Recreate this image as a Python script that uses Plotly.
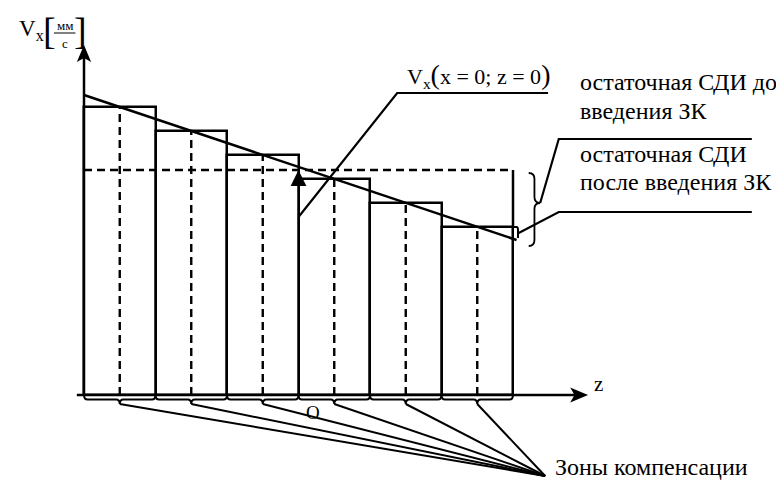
import plotly.graph_objects as go

# --- data -----------------------------------------------------------------
zone_edges = [0, 1, 2, 3, 4, 5, 6]                 # z boundaries of the compensation zones
zone_centers = [0.5, 1.5, 2.5, 3.5, 4.5, 5.5]
vx_steps = [28.8, 26.4, 24.0, 21.6, 19.2, 16.8]    # step profile of V_x per zone
trend_z = [0.0, 6.05]                              # residual velocity before compensation
trend_v = [30.0, 15.5]
comp_level = 22.5                                  # level after compensation
z_axis_end = 7.05
v_axis_end = 35.0

SERIF = "Liberation Serif"
INK = "black"
LW = 2.5

fig = go.Figure()

# zone bars (outline only)
fig.add_trace(go.Bar(
    x=zone_centers, y=vx_steps, width=1.0,
    marker=dict(color="rgba(0,0,0,0)", line=dict(color=INK, width=LW)),
    hoverinfo="skip", showlegend=False,
))

# dashed centre lines of every zone
for zc, v in zip(zone_centers, vx_steps):
    fig.add_trace(go.Scatter(x=[zc, zc], y=[0, v], mode="lines",
                             line=dict(color=INK, width=2.4, dash="8px,5px"),
                             hoverinfo="skip", showlegend=False))

# compensated level (dashed) and the closing edge of the last zone
fig.add_trace(go.Scatter(x=[zone_edges[0], zone_edges[-1]], y=[comp_level, comp_level],
                         mode="lines", line=dict(color=INK, width=2.4, dash="8px,5px"),
                         hoverinfo="skip", showlegend=False))
fig.add_trace(go.Scatter(x=[zone_edges[-1], zone_edges[-1]], y=[vx_steps[-1], comp_level],
                         mode="lines", line=dict(color=INK, width=LW),
                         hoverinfo="skip", showlegend=False))

# residual velocity trend
fig.add_trace(go.Scatter(x=trend_z, y=trend_v, mode="lines",
                         line=dict(color=INK, width=LW),
                         hoverinfo="skip", showlegend=False))

# z axis and V axis
fig.add_trace(go.Scatter(x=[-0.1, z_axis_end - 0.1], y=[0, 0], mode="lines",
                         line=dict(color=INK, width=LW), hoverinfo="skip", showlegend=False))
fig.add_trace(go.Scatter(x=[0, 0], y=[0, v_axis_end - 1], mode="lines",
                         line=dict(color=INK, width=LW), hoverinfo="skip", showlegend=False))

shapes = []
annotations = []

# arrow heads
shapes.append(dict(type="path", xref="x", yref="y", fillcolor=INK, line=dict(width=0),
                   path=f"M 0,{v_axis_end} L -0.1,{v_axis_end-1.7} L 0,{v_axis_end-1.3} "
                        f"L 0.1,{v_axis_end-1.7} Z"))
shapes.append(dict(type="path", xref="x", yref="y", fillcolor=INK, line=dict(width=0),
                   path=f"M {z_axis_end},0 L {z_axis_end-0.25},0.75 L {z_axis_end-0.19},0 "
                        f"L {z_axis_end-0.25},-0.75 Z"))

# marker at z = 0 on the compensated level
zc0 = zone_edges[3]
shapes.append(dict(type="path", xref="x", yref="y", fillcolor=INK, line=dict(width=0),
                   path=f"M {zc0},{comp_level} L {zc0-0.11},{comp_level-1.6} "
                        f"L {zc0+0.11},{comp_level-1.6} Z"))

# flat braces under each zone + leaders to the caption
focus = (6.45, -8.1)
for a, b in zip(zone_edges[:-1], zone_edges[1:]):
    c = (a + b) / 2
    shapes.append(dict(type="path", xref="x", yref="y", line=dict(color=INK, width=2),
                       path=(f"M {a},0 Q {a},-0.45 {a+0.05},-0.45 L {c-0.05},-0.45 "
                             f"Q {c},-0.45 {c},-0.9 Q {c},-0.45 {c+0.05},-0.45 "
                             f"L {b-0.05},-0.45 Q {b},-0.45 {b},0")))
    shapes.append(dict(type="line", xref="x", yref="y", x0=c, y0=-0.9,
                       x1=focus[0], y1=focus[1], line=dict(color=INK, width=2)))

# right curly brace spanning the residual after compensation
bx, top, bot = 6.30, comp_level - 0.3, trend_v[-1] - 0.6
mid = 19.2
shapes.append(dict(type="path", xref="x", yref="y", line=dict(color=INK, width=1.8),
                   path=(f"M {bx-0.08},{top} Q {bx},{top} {bx},{top-0.6} "
                         f"L {bx},{mid+0.6} Q {bx},{mid} {bx+0.08},{mid} "
                         f"Q {bx},{mid} {bx},{mid-0.6} L {bx},{bot+0.6} "
                         f"Q {bx},{bot} {bx-0.08},{bot}")))

# small rounded cap where the trend leaves the last zone
shapes.append(dict(type="path", xref="x", yref="y", line=dict(color=INK, width=2),
                   path=(f"M {zone_edges[-1]},{vx_steps[-1]} L {trend_z[-1]},{vx_steps[-1]} "
                         f"Q {trend_z[-1]+0.02},{vx_steps[-1]} {trend_z[-1]+0.02},"
                         f"{vx_steps[-1]-0.3} L {trend_z[-1]+0.02},{trend_v[-1]+0.2}")))

# leader lines of the callouts
def leader(pts, w=2.2):
    fig.add_trace(go.Scatter(x=[p[0] for p in pts], y=[p[1] for p in pts], mode="lines",
                             line=dict(color=INK, width=w), hoverinfo="skip",
                             showlegend=False))

leader([(zc0, 17.8), (4.38, 30.2), (6.49, 30.2)])
leader([(bx + 0.08, mid), (6.64, 25.6), (9.34, 25.6)])
leader([(trend_z[-1] + 0.03, 16.2), (6.64, 18.3), (9.34, 18.3)])

def text(x, y, s, size=20, xanchor="left", yanchor="middle"):
    annotations.append(dict(x=x, y=y, xref="x", yref="y", text=s, showarrow=False,
                            xanchor=xanchor, yanchor=yanchor,
                            font=dict(family=SERIF, size=size, color=INK)))

# V_x [мм/с]
text(-0.94, 36.5, "V<sub>x</sub>", size=23)
text(-0.48, 36.4, "[", size=38, xanchor="center")
text(-0.05, 36.4, "]", size=38, xanchor="center")
text(-0.27, 36.95, "мм", size=13, xanchor="center")
text(-0.27, 35.2, "с", size=13, xanchor="center")
shapes.append(dict(type="line", xref="x", yref="y", x0=-0.42, x1=-0.12, y0=36.2, y1=36.2,
                   line=dict(color=INK, width=1)))

text(4.49, 32.0, "V<sub>x</sub><span style=\"font-size:28px\">(</span>x = 0; z = 0"
                 "<span style=\"font-size:28px\">)</span>", size=22)
text(6.91, 31.3, "остаточная СДИ до", size=24)
text(6.91, 28.4, "введения ЗК", size=24)
text(6.91, 24.1, "остаточная СДИ", size=24)
text(6.91, 21.3, "после введения ЗК", size=24)
text(z_axis_end + 0.05, 1.1, "z", size=21)
text(3.2, -1.7, "O", size=19, xanchor="center")
text(6.56, -7.2, "Зоны компенсации", size=24)

fig.update_layout(
    width=776, height=480,
    margin=dict(l=0, r=0, t=0, b=0),
    paper_bgcolor="white", plot_bgcolor="white",
    xaxis=dict(range=[-84 / 71.5, (776 - 84) / 71.5], visible=False, fixedrange=True),
    yaxis=dict(range=[-8.5, 39.5], visible=False, fixedrange=True),
    shapes=shapes, annotations=annotations, showlegend=False,
    bargap=0,
)

fig.write_html("out.html")
